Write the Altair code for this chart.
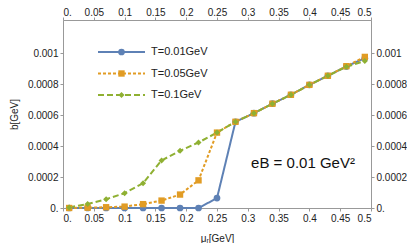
import altair as alt
import pandas as pd

mu = [0.01, 0.04, 0.07, 0.10, 0.13, 0.16, 0.19, 0.22, 0.25, 0.28, 0.31, 0.34, 0.37, 0.40, 0.43, 0.46, 0.49]
b_t001 = [0.0, 0.0, 0.0, 0.0, 0.0, 0.0, 0.0, 0.0, 0.000064, 0.000558, 0.000614, 0.000675, 0.000733, 0.000797, 0.000856, 0.000916, 0.000970]
b_t005 = [0.0, 0.000002, 0.000005, 0.000009, 0.000025, 0.000048, 0.000087, 0.000179, 0.000488, 0.000558, 0.000614, 0.000675, 0.000733, 0.000797, 0.000856, 0.000918, 0.000978]
b_t01 = [0.000004, 0.000026, 0.000057, 0.000096, 0.000160, 0.000308, 0.000370, 0.000424, 0.000488, 0.000558, 0.000614, 0.000675, 0.000733, 0.000797, 0.000856, 0.000914, 0.000952]

series = ["T=0.01GeV", "T=0.05GeV", "T=0.1GeV"]
colors = ["#5E81B5", "#E19C24", "#8FB032"]
dashes = [[1, 0], [3, 2], [6, 3]]
shapes = ["circle", "square", "diamond"]
sizes = [45, 36, 80]

x_ticks = [0, 0.05, 0.1, 0.15, 0.2, 0.25, 0.3, 0.35, 0.4, 0.45, 0.5]
y_ticks = [0, 0.0002, 0.0004, 0.0006, 0.0008, 0.001]

rows = []
for s, vals in zip(series, [b_t001, b_t005, b_t01]):
    for m, v in zip(mu, vals):
        rows.append({"mu": m, "b": v, "T": s})
df = pd.DataFrame(rows)

FONT = "Liberation Sans"
GRAY = "#999999"
W, H = 308, 188
YMAX = 0.001 * H / 154.5  # 0.001 sits ~154.5 px above the bottom

xs = alt.Scale(domain=[0, 0.5], nice=False, zero=False)
ys = alt.Scale(domain=[0, YMAX], nice=False, zero=False)
col = alt.Scale(domain=series, range=colors)
dsh = alt.Scale(domain=series, range=dashes)
shp = alt.Scale(domain=series, range=shapes)
sz = alt.Scale(domain=series, range=sizes)

x_lab = "datum.value == 0 ? '0.' : format(datum.value, '.2~f')"
y_lab = "datum.value == 0 ? '0.' : format(datum.value, '.4~f')"

lab_axis = dict(domainColor=GRAY, tickColor=GRAY, tickSize=3, labelFont=FONT,
                labelFontSize=10, labelColor="#222222", grid=False)
ttl = dict(titleFont=FONT, titleFontSize=10, titleFontWeight="normal", titleColor="#222222")

x_bottom = alt.Axis(values=x_ticks, labelExpr=x_lab, title="μᵣ[GeV]", titlePadding=10,
                    labelPadding=2, orient="bottom", **lab_axis, **ttl)
y_left = alt.Axis(values=y_ticks, labelExpr=y_lab, title="b[GeV]", titlePadding=8,
                  labelPadding=2, orient="left", **lab_axis, **ttl)
x_top = alt.Axis(values=x_ticks, labelExpr=x_lab, orient="top", title=None, labelPadding=0,
                 **lab_axis)
y_right = alt.Axis(values=y_ticks, labelExpr=y_lab, orient="right", title=None, labelPadding=2,
                   **lab_axis)

base = alt.Chart(df)

lines = base.mark_line(strokeWidth=2).encode(
    x=alt.X("mu:Q", scale=xs, axis=x_bottom),
    y=alt.Y("b:Q", scale=ys, axis=y_left),
    color=alt.Color("T:N", scale=col, legend=None),
    strokeDash=alt.StrokeDash("T:N", scale=dsh, legend=None),
    detail="T:N",
)

points = base.mark_point(filled=True, opacity=1).encode(
    x=alt.X("mu:Q", scale=xs, axis=x_top),
    y=alt.Y("b:Q", scale=ys, axis=y_right),
    color=alt.Color("T:N", scale=col, legend=None),
    shape=alt.Shape("T:N", scale=shp, legend=None),
    size=alt.Size("T:N", scale=sz, legend=None),
)

data_layers = alt.layer(lines, points).resolve_axis(x="independent", y="independent")

# Legend (manual, inside plot area; pixel positions)
leg = pd.DataFrame({"T": series, "row": [0, 1, 2]})
leg_base = alt.Chart(leg).transform_calculate(
    yy="32 + datum.row * 21.5", x1="35", x2="82", xm="58.5", xt="88")
leg_lines = leg_base.mark_rule(strokeWidth=2).encode(
    x=alt.X("x1:Q", scale=None), x2="x2:Q", y=alt.Y("yy:Q", scale=None),
    color=alt.Color("T:N", scale=col, legend=None),
    strokeDash=alt.StrokeDash("T:N", scale=dsh, legend=None),
)
leg_pts = leg_base.mark_point(filled=True, opacity=1).encode(
    x=alt.X("xm:Q", scale=None), y=alt.Y("yy:Q", scale=None),
    color=alt.Color("T:N", scale=col, legend=None),
    shape=alt.Shape("T:N", scale=shp, legend=None),
    size=alt.Size("T:N", scale=sz, legend=None),
)
leg_txt = leg_base.mark_text(align="left", baseline="middle", font=FONT, fontSize=11,
                             color="#222222").encode(
    x=alt.X("xt:Q", scale=None), y=alt.Y("yy:Q", scale=None), text="T:N")

ann = alt.Chart(pd.DataFrame({"t": ["eB = 0.01 GeV²"]})).mark_text(
    align="center", baseline="middle", font=FONT, fontSize=15, color="#111111"
).encode(x=alt.value(240), y=alt.value(143), text="t:N")

chart = alt.layer(data_layers, leg_lines, leg_pts, leg_txt, ann).resolve_axis(
    x="independent", y="independent"
).properties(
    width=W, height=H,
    padding={"left": 55, "top": 12, "right": 36, "bottom": 35},
    autosize=alt.AutoSizeParams(type="none"),
).configure_view(stroke=None).configure(background="white")

chart.save("out.html", embed_options={"renderer": "svg", "actions": False})
